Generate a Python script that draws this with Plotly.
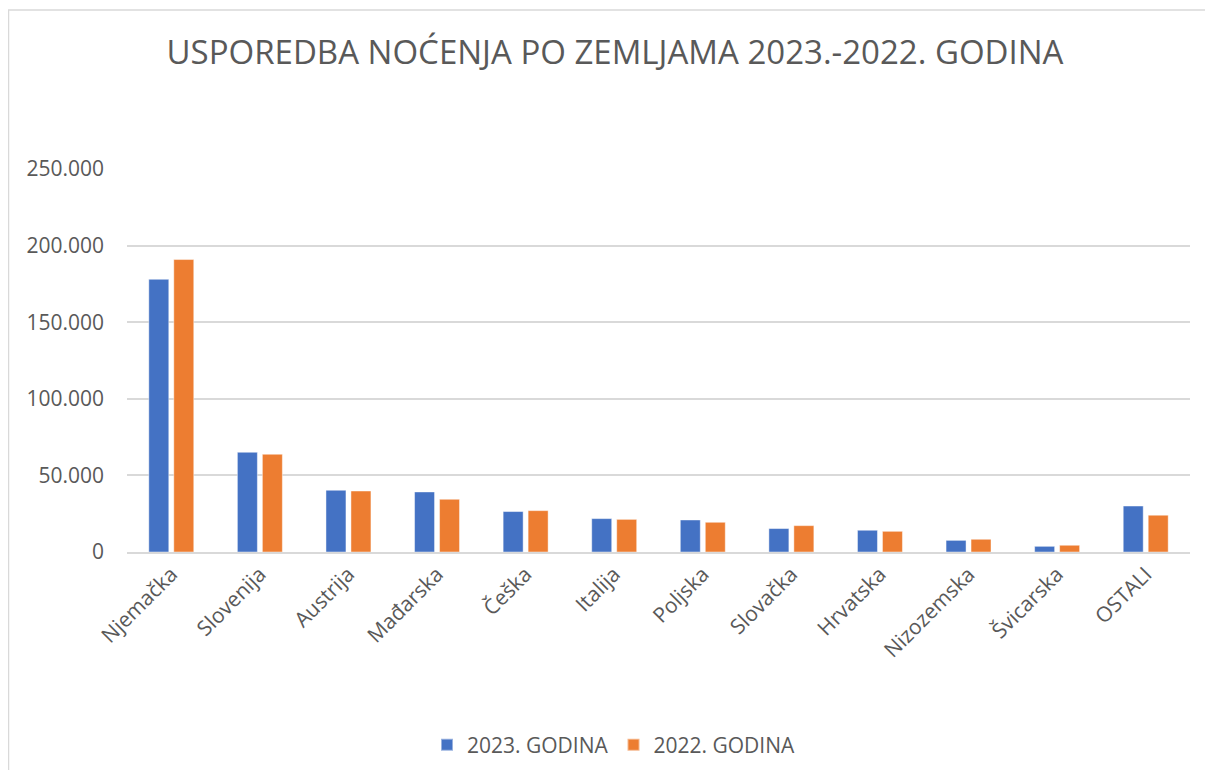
import plotly.graph_objects as go

categories = ["Njemačka", "Slovenija", "Austrija", "Mađarska", "Češka", "Italija",
              "Poljska", "Slovačka", "Hrvatska", "Nizozemska", "Švicarska", "OSTALI"]
values_2023 = [178000, 65100, 40300, 39200, 26400, 21800, 20900, 15300, 14200, 7600, 3700, 30000]
values_2022 = [190900, 63800, 39800, 34400, 27000, 21300, 19400, 17200, 13500, 8300, 4400, 24000]
series_names = ["2023. GODINA", "2022. GODINA"]
y_ticks = [0, 50000, 100000, 150000, 200000, 250000]

# page is offset by the default 8px body margin
OFF = 8
W, H = 1213 - 2 * OFF, 778 - 2 * OFF
L, T = 127 - OFF, 169 - OFF
R = W - (1190 - OFF)
B = H - (552 - OFF)
pw, ph = W - L - R, H - T - B

TXT = "#595959"
FONT = "Open Sans"

fig = go.Figure()
fig.add_trace(go.Bar(x=categories, y=values_2023, name=series_names[0],
                     marker=dict(color="#4472C4", line=dict(color="rgba(255,255,255,0.45)", width=1))))
fig.add_trace(go.Bar(x=categories, y=values_2022, name=series_names[1],
                     marker=dict(color="#ED7D31", line=dict(color="rgba(255,255,255,0.45)", width=1))))

def px_x(p):
    return (p - OFF - L) / pw

def px_y(p):
    return (H - B - (p - OFF)) / ph

fig.add_shape(type="rect", xref="paper", yref="paper",
              x0=px_x(8.5), x1=px_x(1260), y0=px_y(10), y1=px_y(820),
              line=dict(color="#D9D9D9", width=1.5), fillcolor="rgba(0,0,0,0)", layer="below")

fig.update_layout(
    width=W, height=H,
    margin=dict(l=L, r=R, t=T, b=B, autoexpand=False),
    paper_bgcolor="white", plot_bgcolor="white",
    separators=",.",
    barmode="group", bargap=0.436, bargroupgap=0.2,
    title=dict(text="USPOREDBA NOĆENJA PO ZEMLJAMA 2023.-2022. GODINA",
               x=(615 - OFF) / W, xanchor="center", y=1 - (52 - OFF) / H, yanchor="middle", yref="container",
               font=dict(family=FONT, size=33, color=TXT)),
    font=dict(family=FONT, size=21, color=TXT),
    legend=dict(orientation="h", xref="container", x=(614 - OFF) / W, xanchor="center",
                yref="container", y=1 - (745 - OFF) / H, yanchor="middle",
                font=dict(family=FONT, size=21, color=TXT), traceorder="normal",
                itemwidth=30, itemsizing="constant"),
    xaxis=dict(tickangle=-45, showgrid=False, showline=True, linecolor="#D9D9D9", linewidth=1.5,
               ticks="", automargin=False, tickfont=dict(family=FONT, size=21, color=TXT)),
    yaxis=dict(range=[0, 250000], tickvals=y_ticks, tickformat=",d",
               showgrid=True, gridcolor="#D9D9D9", gridwidth=1.5, zeroline=False,
               showline=False, ticks="", ticklabelstandoff=22, automargin=False,
               tickfont=dict(family=FONT, size=21, color=TXT)),
)

fig.write_html("out.html")
